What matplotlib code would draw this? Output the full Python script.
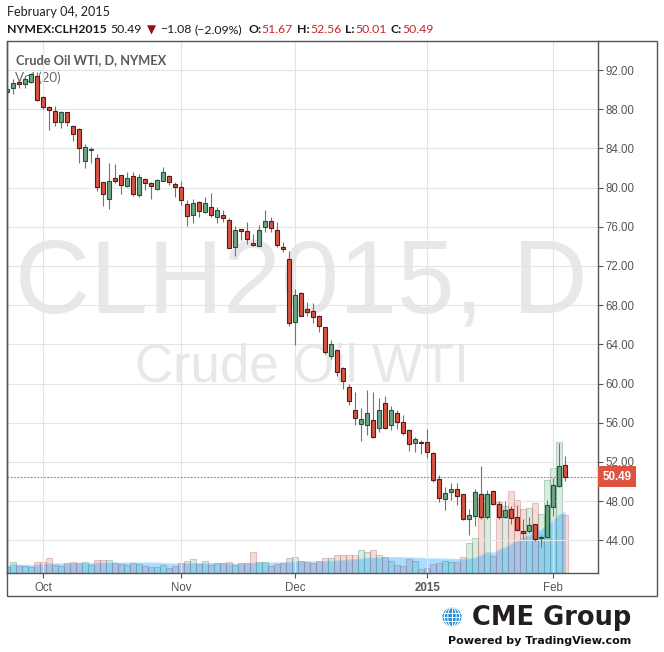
import matplotlib
matplotlib.use("Agg")
import matplotlib.pyplot as plt
from matplotlib import patches, transforms
import numpy as np
import pandas as pd

# daily bars, CLH2015 (Sep 23 2014 .. Feb 04 2015)
opens = [89.72, 90.13, 90.74, 90.57, 90.74, 91.40, 89.21, 88.19, 87.82, 86.66,
         87.68, 86.29, 85.98, 82.75, 83.80, 82.99, 80.54, 78.87, 80.95, 81.26,
         80.20, 81.18, 79.29, 80.85, 80.47, 79.83, 80.70, 81.18, 80.34, 80.03,
         78.33, 77.17, 78.50, 77.55, 78.05, 77.03, 77.17, 76.66, 73.97, 75.74,
         75.54, 74.31, 74.07, 76.01, 76.59, 75.64, 73.90, 72.71, 66.32, 69.24,
         67.61, 67.38, 66.90, 65.74, 62.85, 63.43, 61.56, 59.62, 57.31, 55.91,
         55.81, 56.26, 55.44, 57.99, 55.74, 56.97, 56.05, 55.23, 53.97, 54.07,
         54.01, 52.89, 50.23, 48.19, 48.91, 49.21, 48.70, 46.15, 46.52, 48.70,
         46.42, 49.00, 47.68, 46.42, 47.17, 46.39, 44.96, 44.93, 45.65, 44.21,
         44.38, 47.38, 49.52, 51.67]
highs = [90.20, 91.05, 90.98, 91.25, 91.73, 91.83, 89.30, 88.33, 88.33, 87.80,
         87.75, 86.40, 86.05, 84.45, 84.10, 83.40, 80.60, 82.54, 82.41, 81.30,
         81.60, 81.60, 81.39, 81.00, 80.55, 80.90, 82.10, 81.30, 80.60, 80.67,
         78.73, 78.83, 78.60, 79.04, 79.48, 78.00, 77.68, 76.87, 76.05, 75.80,
         76.49, 75.27, 76.18, 77.71, 77.00, 76.49, 74.45, 73.56, 69.65, 69.35,
         68.33, 68.20, 67.00, 65.80, 64.45, 63.50, 61.70, 59.93, 59.14, 57.48,
         59.35, 59.14, 58.53, 58.70, 57.71, 57.27, 56.77, 55.40, 54.55, 54.24,
         55.37, 53.00, 50.67, 49.41, 49.82, 49.82, 48.75, 47.17, 49.24, 51.59,
         49.14, 49.10, 48.02, 48.02, 47.51, 47.58, 46.18, 46.35, 45.70, 44.55,
         48.12, 50.33, 53.97, 52.56]
lows = [89.60, 89.52, 90.13, 90.20, 90.64, 88.80, 88.00, 85.88, 86.32, 86.11,
        86.30, 84.79, 82.48, 81.97, 82.54, 79.69, 78.15, 77.85, 80.50, 79.35,
        80.10, 79.14, 79.07, 79.76, 78.87, 79.80, 80.65, 80.23, 79.00, 78.19,
        76.05, 76.42, 77.03, 77.37, 77.03, 76.42, 76.52, 73.80, 73.06, 74.65,
        74.28, 74.07, 74.00, 75.50, 75.50, 73.90, 73.40, 65.91, 63.94, 66.85,
        66.93, 66.21, 65.30, 62.99, 62.48, 60.78, 59.42, 57.82, 55.74, 54.18,
        54.79, 54.45, 55.06, 55.40, 55.27, 55.33, 54.76, 53.15, 53.05, 52.82,
        52.38, 50.00, 47.95, 47.10, 48.12, 47.61, 46.05, 44.58, 45.50, 46.20,
        46.18, 47.60, 46.18, 46.30, 45.65, 44.95, 44.11, 44.73, 43.90, 43.36,
        44.21, 46.49, 49.40, 50.01]
closes = [90.03, 90.64, 90.54, 91.05, 91.56, 88.94, 88.19, 87.89, 86.66, 87.68,
          86.66, 85.50, 84.07, 84.11, 83.94, 80.03, 79.32, 80.64, 80.70, 80.30,
          80.95, 79.35, 81.05, 80.44, 80.20, 80.78, 81.56, 80.54, 80.10, 78.70,
          77.07, 78.40, 77.64, 78.40, 77.24, 77.68, 76.93, 73.87, 75.64, 75.60,
          74.72, 74.17, 75.67, 76.59, 75.85, 74.11, 73.70, 66.21, 69.04, 66.93,
          67.34, 66.83, 65.91, 63.19, 64.04, 61.21, 60.30, 58.19, 56.46, 56.39,
          56.97, 54.52, 57.27, 55.44, 57.27, 56.05, 54.93, 53.80, 54.32, 53.97,
          53.05, 50.16, 48.29, 48.87, 49.21, 48.57, 46.18, 46.55, 48.91, 46.42,
          48.70, 47.71, 46.42, 47.07, 46.25, 45.06, 44.79, 45.55, 44.11, 44.35,
          47.58, 49.62, 51.57, 50.49]
# volume, thousands of contracts
volumes = [10, 18, 11, 11, 10, 18, 18, 24, 13, 12,
           16, 18, 16, 18, 13, 21, 21, 21, 16, 15,
           13, 16, 14, 12, 10, 10, 13, 8, 12, 16,
           19, 22, 14, 19, 13, 16, 16, 18, 13, 16,
           16, 34, 18, 17, 12, 14, 16, 24, 26, 19,
           17, 16, 19, 24, 24, 29, 29, 29, 29, 37,
           33, 37, 29, 26, 20, 13, 11, 22, 19, 6,
           8, 14, 16, 20, 18, 18, 26, 48, 56, 120,
           126, 27, 114, 107, 131, 117, 102, 104, 112, 94,
           150, 168, 210, 93]

month_idx = [6, 29, 48, 70, 91]
month_labels = ["Oct", "Nov", "Dec", "2015", "Feb"]
date_text = "February 04, 2015"
symbol = "NYMEX:CLH2015"

W, H = 664, 652


def fx(px):
    return px / W


def fy(py):
    return 1 - py / H


fig = plt.figure(figsize=(W / 100, H / 100), dpi=100)
fig.patch.set_facecolor("white")

rect = [fx(6.7), fy(573), fx(598) - fx(6.7), fy(41) - fy(573)]
ax_vol = fig.add_axes(rect)
ax = fig.add_axes(rect, facecolor="none")

x = np.arange(len(closes))
o = np.array(opens)
c = np.array(closes)
v = np.array(volumes, dtype=float)
up = c >= o
xlim = (-0.12, 98.45)

# volume panel (behind the candles), MA(20) area laid over the bars
vfc = [(0.42, 0.65, 0.51, 0.22) if u else (0.84, 0.33, 0.26, 0.2) for u in up]
vec = [(0.42, 0.65, 0.51, 0.45) if u else (0.75, 0.40, 0.40, 0.35) for u in up]
ax_vol.bar(x, v, width=1.0, color=vfc, edgecolor=vec, linewidth=0.8, zorder=2)
ma = pd.Series(v).rolling(20, min_periods=1).mean()
ax_vol.fill_between(x, 0, ma, color="#0496ff", alpha=0.33, lw=0, zorder=3)
ax_vol.plot(x, ma, color="#0496ff", alpha=0.25, lw=0.8, zorder=3)
ax_vol.set_xlim(*xlim)
ax_vol.set_ylim(0, v.max() / 0.246)
ax_vol.set_xticks([])
ax_vol.set_yticks([])
for s in ax_vol.spines.values():
    s.set_visible(False)

# watermark + legend texts
ax_vol.text(fx(301.5), fy(313), "CLH2015, D", transform=fig.transFigure,
            ha="center", va="baseline", fontsize=75, color="#e8e8e8",
            family="Liberation Sans", zorder=0.5)
ax_vol.text(fx(301.5), fy(382), "Crude Oil WTI", transform=fig.transFigure,
            ha="center", va="baseline", fontsize=38, color="#e8e8e8",
            family="Liberation Sans", zorder=0.5)
ax_vol.text(fx(16), fy(64.3), "Crude Oil WTI, D, NYMEX", transform=fig.transFigure,
            ha="left", va="baseline", fontsize=9.2, color="#5a5a5a",
            family="Lato", fontweight="bold", zorder=0.5)
ax_vol.text(fx(15), fy(81.5), "Vol (20)", transform=fig.transFigure,
            ha="left", va="baseline", fontsize=9.6, color="#6a6a6a",
            family="Lato", zorder=0.5)

# candles
ax.vlines(x, lows, highs, color="#737375", lw=0.8, zorder=2)
body_low = np.minimum(o, c)
body_h = np.maximum(np.abs(c - o), 0.05)
ax.bar(x, body_h, bottom=body_low, width=0.68,
       color=np.where(up, "#6ba583", "#d75442"),
       edgecolor=np.where(up, "#225437", "#5b1a13"), linewidth=0.8, zorder=3)

last = closes[-1]
ax.axhline(last, color="#d75442", lw=0.8, ls=(0, (1.5, 1.5)), alpha=0.9, zorder=1.5)
blend = transforms.blended_transform_factory(ax.transAxes, ax.transData)
ax.text(1.007, last, f"{last:.2f}", transform=blend, ha="left", va="center",
        color="white", fontweight="bold", fontsize=8.3, family="Liberation Sans",
        bbox=dict(boxstyle="square,pad=0.38", fc="#dc5340", ec="none"), clip_on=False)

ax.set_xlim(*xlim)
ax.set_ylim(40.67, 94.96)
ax.yaxis.tick_right()
ax.set_yticks(np.arange(44, 93, 4))
ax.set_yticklabels([f"{t:.2f}" for t in np.arange(44, 93, 4)])
ax.set_xticks(month_idx)
ax.set_xticklabels(month_labels)
ax.get_xticklabels()[3].set_fontweight("bold")
ax.tick_params(axis="both", color="#555555", labelcolor="#555555", length=3.5,
               width=0.8, labelsize=8.3)
ax.tick_params(axis="y", pad=2)
ax.tick_params(axis="x", pad=3)
for lab in ax.get_xticklabels() + ax.get_yticklabels():
    lab.set_family("Liberation Sans")
ax.grid(True, color="#e4e4e4", lw=0.8)
ax.set_axisbelow(True)
ax.spines["top"].set_visible(False)
for side in ["left", "right", "bottom"]:
    ax.spines[side].set_color("#555555")
    ax.spines[side].set_linewidth(1)

# outer frame
fig.add_artist(patches.Rectangle((fx(6.7), fy(596)), fx(657) - fx(6.7), fy(41) - fy(596),
                                 fill=False, ec="#555555", lw=1, transform=fig.transFigure))

# header
fam = ["Lato", "DejaVu Sans"]
fig.text(fx(7), fy(16), date_text, fontsize=9.1, family=fam, color="#222222", va="baseline")

chg = closes[-1] - closes[-2]
pct = chg / closes[-2] * 100
black, red = "#1a1a1a", "#c0282d"
parts = [
    (symbol, black, "bold", 4),
    (f"{closes[-1]:.2f}", black, "normal", 5),
    ("\u25bc", "#9b0d0d", "normal", 4),
    (f"{chg:.2f}".replace("-", "\u2212"), black, "normal", 3),
    (f"({pct:.2f}%)".replace("-", "\u2212"), black, "normal", 6),
    ("O:", black, "bold", 0.5),
    (f"{opens[-1]:.2f}", red, "normal", 4),
    ("H:", black, "bold", 0.5),
    (f"{highs[-1]:.2f}", red, "normal", 4),
    ("L:", black, "bold", 0.5),
    (f"{lows[-1]:.2f}", red, "normal", 4),
    ("C:", black, "bold", 0.5),
    (f"{closes[-1]:.2f}", red, "normal", 0),
]
renderer = fig.canvas.get_renderer()
xp = 7
for s, col, wt, gap in parts:
    size = 8.5 if s == "\u25bc" else 8.8
    t = fig.text(fx(xp), fy(33.3), s, fontsize=size, family=fam, color=col,
                 fontweight=wt, va="baseline")
    xp = t.get_window_extent(renderer=renderer).x1 + gap

# CME Group logo
ax_logo = fig.add_axes([fx(442), fy(627), fx(20), 20 / H])
ax_logo.set_xlim(-1.05, 1.05)
ax_logo.set_ylim(-1.05, 1.05)
ax_logo.set_aspect("equal")
ax_logo.axis("off")
globe = patches.Circle((0, 0), 1, fc="#2a8fd4", ec="none")
ax_logo.add_patch(globe)
for w in (0.9, 1.6):
    e = patches.Ellipse((0, 0), w, 2, fill=False, ec="white", lw=0.7)
    ax_logo.add_patch(e)
    e.set_clip_path(globe)
for yy in (-0.45, 0.0, 0.45):
    ln, = ax_logo.plot([-1, 1], [yy, yy], color="white", lw=0.7)
    ln.set_clip_path(globe)
ln, = ax_logo.plot([0, 0], [-1, 1], color="white", lw=0.7)
ln.set_clip_path(globe)

fig.text(fx(472), fy(625), "CME Group", fontsize=18.5, family="DejaVu Sans",
         fontweight="bold", color="#231f20", va="baseline")
fig.text(fx(448), fy(644), "Powered by TradingView.com", fontsize=8,
         family="DejaVu Sans", fontweight="bold", color="#111111", va="baseline")

fig.savefig("out.png", dpi=100, facecolor="white")
